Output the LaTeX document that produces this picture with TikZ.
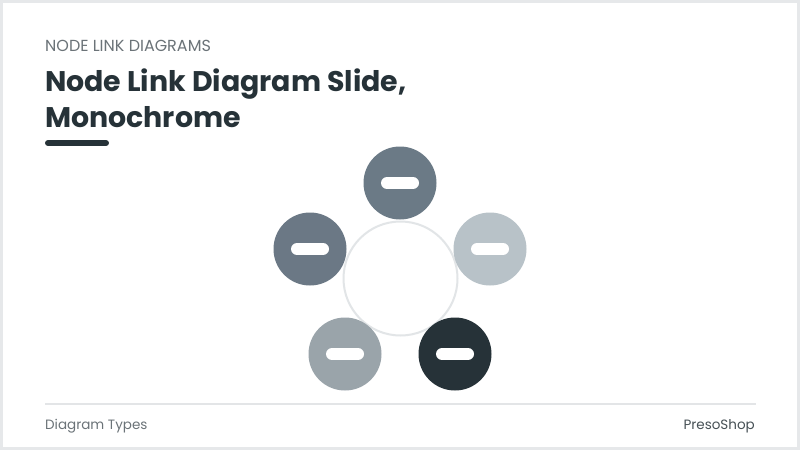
\documentclass[tikz,border=0pt]{standalone}
\usepackage{fontspec}
\setmainfont{Poppins}
\definecolor{frame}{HTML}{E6E8EA}
\definecolor{ink}{HTML}{263238}
\definecolor{subgray}{HTML}{6B7378}
\definecolor{cA}{HTML}{6B7A86}
\definecolor{cB}{HTML}{6B7885}
\definecolor{cC}{HTML}{B8C2C8}
\definecolor{cD}{HTML}{9AA4AA}
\definecolor{cE}{HTML}{263238}
\definecolor{ringc}{HTML}{E2E5E7}
\definecolor{rulec}{HTML}{E3E5E7}
\begin{document}
\begin{tikzpicture}[x=1pt,y=-1pt,
  bubble/.style={circle,minimum size=73pt,inner sep=0pt,draw=none},
  pillbar/.style={line width=12pt,line cap=round,white},
  txt/.style={anchor=base west,inner sep=0pt}]
\useasboundingbox (0,0) rectangle (800,450);
\fill[frame] (0,0) rectangle (800,450);
\fill[white] (3,3) rectangle (797,447);
% header
\node[txt,text=subgray,font=\fontsize{16}{19}\selectfont] (kicker) at (45,51) {NODE LINK DIAGRAMS};
\node[txt,text=ink,font=\bfseries\fontsize{28.4}{34}\selectfont] (t1) at (45,91) {Node Link Diagram Slide,};
\node[txt,text=ink,font=\bfseries\fontsize{28.4}{34}\selectfont] (t2) at (45,127) {Monochrome};
\coordinate (ua) at (48,143);
\coordinate (ub) at (106,143);
\draw[ink,line width=6pt,line cap=round] (ua) -- (ub);
% ring
\node[circle,draw=ringc,line width=2pt,minimum size=114pt,inner sep=0pt] (ring) at (400.5,278.5) {};
% bubbles
\node[bubble,fill=cA] (top) at (400,183) {};
\node[bubble,fill=cB] (left) at (310,249) {};
\node[bubble,fill=cC] (right) at (490,249) {};
\node[bubble,fill=cD] (bl) at (345,354) {};
\node[bubble,fill=cE] (br) at (455,354) {};
\foreach \n in {top,left,right,bl,br}{
  \draw[pillbar] ([xshift=-13pt]\n.center) -- ([xshift=13pt]\n.center);
}
% footer
\coordinate (fa) at (45,404);
\coordinate (fb) at (756,404);
\draw[rulec,line width=2pt] (fa) -- (fb);
\node[txt,text=subgray,font=\fontsize{13.5}{16}\selectfont] (ftl) at (45,429) {Diagram Types};
\node[anchor=base east,inner sep=0pt,text=ink!85,font=\fontsize{13.5}{16}\selectfont] (ftr) at (755,429) {PresoShop};
\end{tikzpicture}
\end{document}
